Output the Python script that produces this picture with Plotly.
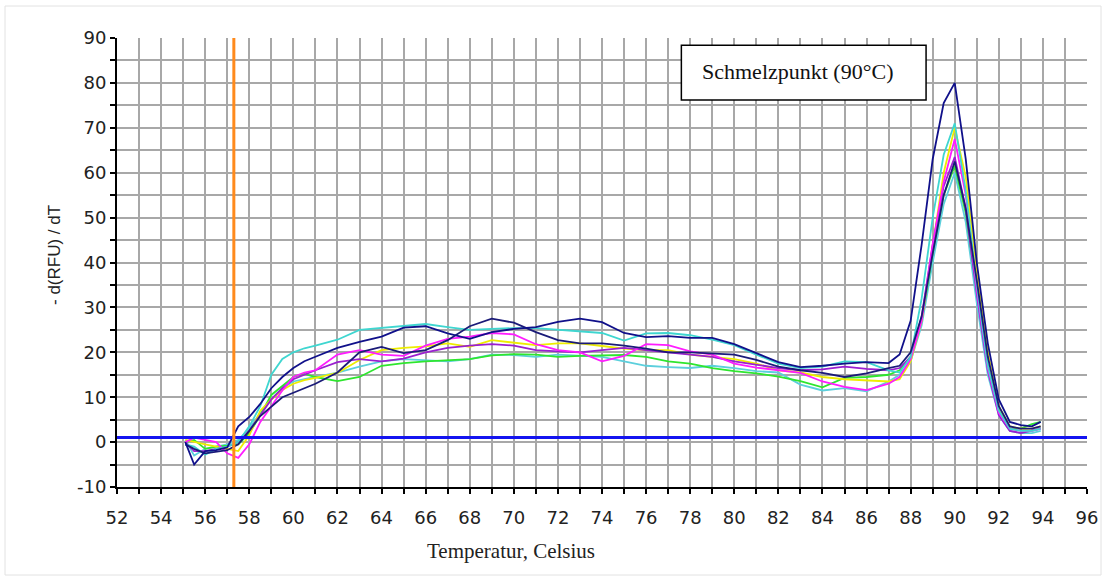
import plotly.graph_objects as go

# Temperature sampling points (°C)
temps = [55.1, 55.5, 56.0, 56.5, 57.0, 57.5, 58.0, 58.5, 59.0, 59.5, 60.0, 60.5, 61.0,
         62, 63, 64, 65, 66, 67, 68, 69, 70, 71, 72, 73, 74, 75, 76, 77, 78, 79,
         80, 81, 82, 83, 84, 85, 86, 87, 87.5, 88.0, 88.5, 89.0, 89.5, 90.0, 90.5,
         91.0, 91.5, 92.0, 92.5, 93.0, 93.5, 93.9]

# -d(RFU)/dT melt curves, one list per well
navy_a = [0.0, -5.0, -2.0, -1.8, -1.2, 3.5, 5.6, 8.5, 12.0, 14.5, 16.5, 18.0, 19.0,
          21.0, 22.3, 23.5, 25.5, 25.8, 24.2, 23.0, 24.5, 25.2, 25.6, 26.8, 27.5, 26.7, 24.3, 23.4, 23.6, 23.2, 23.2,
          21.8, 19.8, 17.8, 16.7, 17.0, 17.5, 17.8, 17.6, 19.5, 27.0, 44.0, 63.0, 75.5, 80.0, 63.0,
          40.0, 22.0, 9.5, 4.5, 3.8, 3.5, 4.5]
navy_b = [-0.5, -1.5, -2.5, -2.2, -1.8, -0.5, 2.5, 5.8, 8.0, 10.0, 11.0, 12.0, 13.0,
          15.5, 20.0, 21.2, 19.8, 20.5, 22.7, 25.8, 27.5, 26.6, 24.5, 22.7, 22.0, 22.0, 21.5, 20.8, 20.0, 20.0, 19.8,
          19.5, 18.3, 16.8, 16.0, 15.4, 14.5, 15.3, 16.5, 17.0, 20.0, 28.0, 42.0, 55.0, 62.5, 52.0,
          36.0, 19.0, 8.0, 3.5, 3.0, 3.0, 3.5]
cyan_a = [-0.5, -1.0, -2.8, -1.5, -1.0, 0.0, 3.5, 8.0, 15.0, 18.5, 20.0, 20.9, 21.5,
          22.8, 25.0, 25.4, 25.8, 26.3, 25.6, 25.0, 25.2, 25.4, 25.4, 25.0, 24.7, 24.3, 22.6, 24.2, 24.3, 23.8, 22.8,
          21.6, 19.5, 17.5, 16.5, 16.8, 18.0, 17.8, 16.0, 15.5, 19.0, 32.0, 50.0, 64.0, 71.0, 56.0,
          35.0, 17.0, 7.0, 3.0, 2.5, 2.5, 3.0]
cyan_b = [0.5, -3.0, -1.5, -1.0, -0.5, 0.5, 3.0, 6.5, 9.5, 12.0, 13.5, 14.0, 14.5,
          15.5, 16.8, 18.0, 18.5, 18.2, 18.0, 18.5, 19.5, 19.4, 19.0, 19.5, 19.2, 19.0, 18.0, 17.0, 16.7, 16.5, 17.0,
          16.5, 15.8, 15.5, 12.8, 11.5, 12.0, 11.3, 13.5, 15.0, 18.0, 26.0, 40.0, 53.0, 60.0, 49.0,
          31.0, 15.0, 6.0, 2.5, 2.0, 2.0, 2.5]
magenta = [0.0, 1.0, 0.5, 0.0, -2.5, -3.5, -0.5, 4.5, 8.0, 11.5, 14.5, 15.5, 16.0,
           19.5, 20.5, 19.5, 19.2, 21.5, 23.0, 23.5, 24.3, 24.0, 21.8, 20.5, 20.0, 18.0, 19.2, 21.8, 21.6, 20.2, 19.5,
           17.5, 16.6, 16.0, 15.4, 13.5, 12.3, 11.6, 13.0, 14.5, 18.5, 27.0, 44.0, 58.0, 67.5, 55.0,
           34.0, 16.5, 6.5, 3.0, 2.5, 2.5, 3.0]
violet = [0.0, -2.0, -2.0, -1.5, -1.0, 0.0, 2.5, 6.0, 9.5, 12.0, 14.0, 15.0, 16.0,
          17.8, 18.5, 18.0, 18.6, 20.0, 21.0, 21.5, 21.8, 21.5, 20.5, 20.2, 20.0, 20.5, 21.0, 20.5, 20.0, 19.5, 19.0,
          18.0, 17.2, 16.5, 16.0, 16.2, 16.8, 16.3, 16.0, 16.5, 19.0, 28.0, 44.0, 57.0, 63.5, 52.0,
          33.0, 16.0, 6.0, 2.5, 2.0, 2.5, 3.0]
yellow = [0.5, 0.0, -0.5, -1.0, -1.5, -2.0, 1.5, 7.0, 9.5, 11.6, 13.0, 13.8, 14.3,
          15.4, 18.3, 20.5, 21.0, 21.3, 22.0, 21.2, 22.7, 22.2, 21.6, 22.0, 22.0, 21.4, 20.8, 20.5, 20.5, 19.5, 19.0,
          18.5, 17.5, 16.0, 15.5, 14.5, 14.0, 13.8, 13.5, 14.0, 18.0, 27.0, 44.0, 60.0, 70.0, 59.0,
          38.0, 20.0, 8.0, 3.5, 3.0, 3.0, 3.5]
green = [0.0, 0.5, -1.5, -1.0, -0.8, -0.5, 2.0, 6.0, 10.5, 12.5, 14.5, 15.2, 14.5,
         13.6, 14.5, 17.0, 17.6, 18.0, 18.3, 18.5, 19.3, 19.6, 19.5, 19.0, 19.2, 19.3, 19.4, 19.0, 18.0, 17.5, 16.5,
         15.8, 15.3, 14.6, 13.6, 12.2, 14.3, 14.5, 15.0, 16.0, 19.0, 27.0, 42.0, 55.0, 61.5, 51.0,
         34.0, 17.0, 7.0, 3.0, 3.0, 4.0, 4.5]

# y-axis tick values and their labels (plain hyphen for negatives)
y_tickvals = [-10, 0, 10, 20, 30, 40, 50, 60, 70, 80, 90]
y_ticktext = ["-10", "0", "10", "20", "30", "40", "50", "60", "70", "80", "90"]

threshold = 1.0          # threshold line
start_temp = 57.3        # start marker
box_label = "Schmelzpunkt (90°C)"

curves = [
    ("cyan_b", "#5ccfdc", cyan_b),
    ("green", "#2ee62e", green),
    ("yellow", "#eded00", yellow),
    ("violet", "#9a1fd0", violet),
    ("magenta", "#ff1cff", magenta),
    ("cyan_a", "#3fd6d0", cyan_a),
    ("navy_b", "#1b1b78", navy_b),
    ("navy_a", "#10108a", navy_a),
]

fig = go.Figure()
for name, color, vals in curves:
    fig.add_trace(go.Scatter(x=temps, y=vals, mode="lines", name=name,
                             line=dict(color=color, width=1.8), showlegend=False,
                             hoverinfo="skip"))

GRID = "#a8a8a8"
tickfont = dict(family="DejaVu Sans", size=18, color="#222222")

fig.update_layout(
    width=1116, height=576,
    margin=dict(l=117, r=29, t=38, b=89),
    paper_bgcolor="white", plot_bgcolor="white",
    xaxis=dict(range=[52, 96], tickmode="linear", tick0=52, dtick=2,
               ticks="outside", ticklen=5, tickwidth=2, tickcolor="black",
               showline=True, linecolor="black", linewidth=2,
               showgrid=True, gridcolor=GRID, gridwidth=2, zeroline=False,
               tickfont=tickfont, ticklabelstandoff=8,
               minor=dict(tick0=52, dtick=1, ticks="outside", ticklen=5, tickwidth=2,
                          tickcolor="black", showgrid=True, gridcolor=GRID, gridwidth=2)),
    yaxis=dict(range=[-10, 90], tickmode="array", tickvals=y_tickvals, ticktext=y_ticktext,
               ticks="outside", ticklen=5, tickwidth=2, tickcolor="black",
               showline=True, linecolor="black", linewidth=2,
               showgrid=True, gridcolor=GRID, gridwidth=2, zeroline=False,
               tickfont=tickfont, ticklabelstandoff=0,
               minor=dict(tick0=-10, dtick=5, ticks="outside", ticklen=5, tickwidth=2,
                          tickcolor="black", showgrid=True, gridcolor=GRID, gridwidth=2)),
    xaxis2=dict(range=[52, 96], overlaying="x", anchor="y", side="bottom",
                tickmode="linear", tick0=52, dtick=1, ticks="inside", ticklen=4,
                tickwidth=2, tickcolor="black", showticklabels=False,
                showgrid=False, zeroline=False, showline=False),
    yaxis2=dict(range=[-10, 90], overlaying="y", anchor="x", side="left",
                tickmode="linear", tick0=-10, dtick=5, ticks="inside", ticklen=4,
                tickwidth=2, tickcolor="black", showticklabels=False,
                showgrid=False, zeroline=False, showline=False),
)

# threshold and start-temperature lines
fig.add_shape(type="line", xref="x", yref="y", x0=52, x1=96, y0=threshold, y1=threshold,
              line=dict(color="#1414f0", width=3), layer="above")
fig.add_shape(type="line", xref="x", yref="y", x0=start_temp, x1=start_temp, y0=-10, y1=90,
              line=dict(color="#ff8a1c", width=3), layer="above")

# melting point label box
fig.add_shape(type="rect", xref="x", yref="y", x0=77.6, x1=88.7, y0=76.2, y1=88.4,
              line=dict(color="black", width=1.5), fillcolor="white", layer="above")
fig.add_annotation(x=82.9, y=82.6, xref="x", yref="y", text=box_label, showarrow=False,
                   xanchor="center", yanchor="middle",
                   font=dict(family="Liberation Serif", size=22, color="#111111"))

# axis titles
fig.add_annotation(x=(511 - 117) / 970, y=(487 - 551) / 449, xref="paper", yref="paper",
                   text="Temperatur, Celsius", showarrow=False,
                   xanchor="center", yanchor="middle",
                   font=dict(family="Liberation Serif", size=21, color="#222222"))
fig.add_annotation(x=(55 - 117) / 970, y=(487 - 255) / 449, xref="paper", yref="paper",
                   text="- d(RFU) / dT", textangle=-90, showarrow=False,
                   xanchor="center", yanchor="middle",
                   font=dict(family="Liberation Sans", size=17, color="#222222"))

# outer frame
fig.add_shape(type="rect", xref="paper", yref="paper",
              x0=(5 - 117) / 970, x1=(1101 - 117) / 970,
              y0=(487 - 575) / 449, y1=(487 - 6) / 449,
              line=dict(color="#e2e2e2", width=1), layer="below")

fig.write_html("out.html")
